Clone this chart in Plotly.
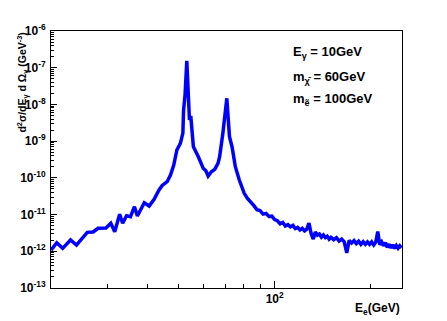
import plotly.graph_objects as go

# photon-electron spectrum
energy = [
    20.0, 20.85, 21.75, 23.02, 24.02, 25.96, 27.08, 28.06, 29.70, 30.76,
    31.64, 32.78, 33.49, 34.45, 35.44, 36.46, 37.24, 39.13, 40.53, 42.00,
    43.51, 44.53, 46.13, 47.25, 48.38, 49.47, 50.73, 51.66, 51.92, 52.48,
    53.14, 53.67, 54.17, 54.68, 55.14, 55.72, 57.74, 59.10, 59.80, 60.96,
    61.97, 63.43, 64.98, 66.51, 67.30, 68.89, 69.88, 70.88, 71.52, 72.24,
    73.58, 75.36, 77.53, 80.33, 82.22,
    84, 86, 88, 90, 92, 94, 96, 98, 100, 102, 104, 106, 108, 110, 112, 114,
    116, 118, 120, 122, 124, 126, 128, 130, 132, 134, 136, 138, 140, 142,
    144, 146, 148, 150, 153, 156, 159, 162, 165, 168, 171, 174, 177, 180,
    183, 186, 189, 192, 195, 198, 201, 204, 207, 210, 213, 216, 219, 222,
    225, 228, 231, 234, 237, 240, 243, 246, 249,
]
dsigma = [
    1.08e-12, 1.71e-12, 1.20e-12, 2.03e-12, 1.48e-12, 3.28e-12, 3.35e-12, 4.22e-12, 4.30e-12, 5.78e-12,
    3.41e-12, 1.02e-11, 5.78e-12, 9.31e-12, 8.73e-12, 1.64e-11, 9.12e-12, 2.10e-11, 1.71e-11, 2.60e-11,
    4.67e-11, 6.20e-11, 7.85e-11, 1.19e-10, 2.24e-10, 5.73e-10, 8.73e-10, 1.66e-09, 7.05e-09, 1.81e-08,
    1.55e-07, 1.81e-08, 3.77e-09, 4.84e-09, 2.01e-09, 7.05e-10, 3.77e-10, 2.24e-10, 1.82e-10, 1.56e-10,
    1.12e-10, 1.47e-10, 1.71e-10, 2.49e-10, 3.77e-10, 1.63e-09, 5.73e-09, 1.47e-08, 4.63e-09, 1.32e-09,
    7.05e-10, 2.01e-10, 8.73e-11, 3.79e-11, 2.77e-11,
    2.15e-11, 1.77e-11, 1.36e-11, 1.29e-11, 1.03e-11, 1.08e-11, 8.85e-12, 9.04e-12, 7.31e-12, 6.78e-12,
    5.58e-12, 6.08e-12, 4.88e-12, 5.31e-12, 4.62e-12, 5.08e-12, 4.15e-12, 4.48e-12, 3.83e-12, 4.23e-12,
    3.61e-12, 4.01e-12, 5.87e-12, 3.05e-12, 2.16e-12, 3.37e-12, 2.76e-12, 2.96e-12, 2.42e-12, 2.77e-12,
    2.36e-12, 2.58e-12, 2.14e-12, 2.40e-12, 2.07e-12, 2.35e-12, 1.89e-12, 2.15e-12, 1.82e-12, 9.08e-13,
    1.98e-12, 1.69e-12, 1.96e-12, 1.62e-12, 1.88e-12, 1.55e-12, 1.83e-12, 1.54e-12, 1.79e-12, 1.54e-12,
    1.80e-12, 1.49e-12, 1.78e-12, 3.45e-12, 1.50e-12, 1.79e-12, 1.41e-12, 1.71e-12, 1.29e-12, 1.56e-12,
    1.23e-12, 1.50e-12, 1.20e-12, 1.43e-12, 1.21e-12, 1.40e-12, 1.24e-12,
]

y_major = [1e-13, 1e-12, 1e-11, 1e-10, 1e-9, 1e-8, 1e-7, 1e-6]
y_labels = ["<b>10<sup>-%d</sup></b>" % k for k in range(13, 5, -1)]
y_minor = [m * 10.0 ** e for e in range(-13, -6) for m in range(2, 10)]
x_major = [100]
x_labels = ["<b>10<sup>2</sup></b>"]
x_minor = [20, 30, 40, 50, 60, 70, 80, 90, 200]

FONT = "Liberation Sans, Arial, Helvetica, sans-serif"

fig = go.Figure()
fig.add_trace(go.Scatter(
    x=energy, y=dsigma, mode="lines",
    line=dict(color="#0000ff", width=3.5),
    showlegend=False, hoverinfo="skip",
))

# the page body has an 8px margin, so the figure is shrunk by that much
fig.update_layout(
    width=439, height=313,
    margin=dict(l=37, r=45, t=23, b=33),
    paper_bgcolor="white", plot_bgcolor="white",
    font=dict(family=FONT, color="black", size=12),
)
fig.update_xaxes(
    type="log", range=[1.30103, 2.39794],
    showgrid=False, zeroline=False,
    showline=True, mirror=True, linecolor="black", linewidth=1,
    ticks="inside", ticklen=7, tickwidth=1, tickcolor="black",
    tickmode="array", tickvals=x_major, ticktext=x_labels,
    tickfont=dict(size=12),
    minor=dict(tickmode="array", tickvals=x_minor, ticks="inside",
               ticklen=4, tickcolor="black", showgrid=False),
)
fig.update_yaxes(
    type="log", range=[-13, -6],
    showgrid=False, zeroline=False,
    showline=True, mirror=True, linecolor="black", linewidth=1,
    ticks="inside", ticklen=6, tickwidth=1, tickcolor="black",
    tickmode="array", tickvals=y_major, ticktext=y_labels,
    tickfont=dict(size=12), ticklabelstandoff=2,
    minor=dict(tickmode="array", tickvals=y_minor, ticks="inside",
               ticklen=3, tickcolor="black", showgrid=False),
)

fig.add_annotation(
    text="<b>d<sup>2</sup>σ/dE<sub>γ</sub> d Ω<sub>γ</sub> (GeV<sup>-3</sup>)</b>",
    xref="paper", yref="paper", x=-0.081, y=1.0,
    xanchor="center", yanchor="top", textangle=-90,
    showarrow=False, font=dict(size=10.5),
)
fig.add_annotation(
    text="<b>E<sub>e</sub>(GeV)</b>",
    xref="paper", yref="paper", x=1.0, y=-0.082,
    xanchor="right", yanchor="middle",
    showarrow=False, font=dict(size=12),
)
legend_lines = [
    "<b>E<sub>γ</sub> = 10GeV</b>",
    "<b>m<sub>χ̄</sub> = 60GeV</b>",
    "<b>m<sub>ẽ</sub> = 100GeV</b>",
]
for txt, yy in zip(legend_lines, [0.918, 0.821, 0.735]):
    fig.add_annotation(
        text=txt, xref="paper", yref="paper", x=0.683, y=yy,
        xanchor="left", yanchor="middle",
        showarrow=False, font=dict(size=13),
    )

fig.write_html("out.html")
